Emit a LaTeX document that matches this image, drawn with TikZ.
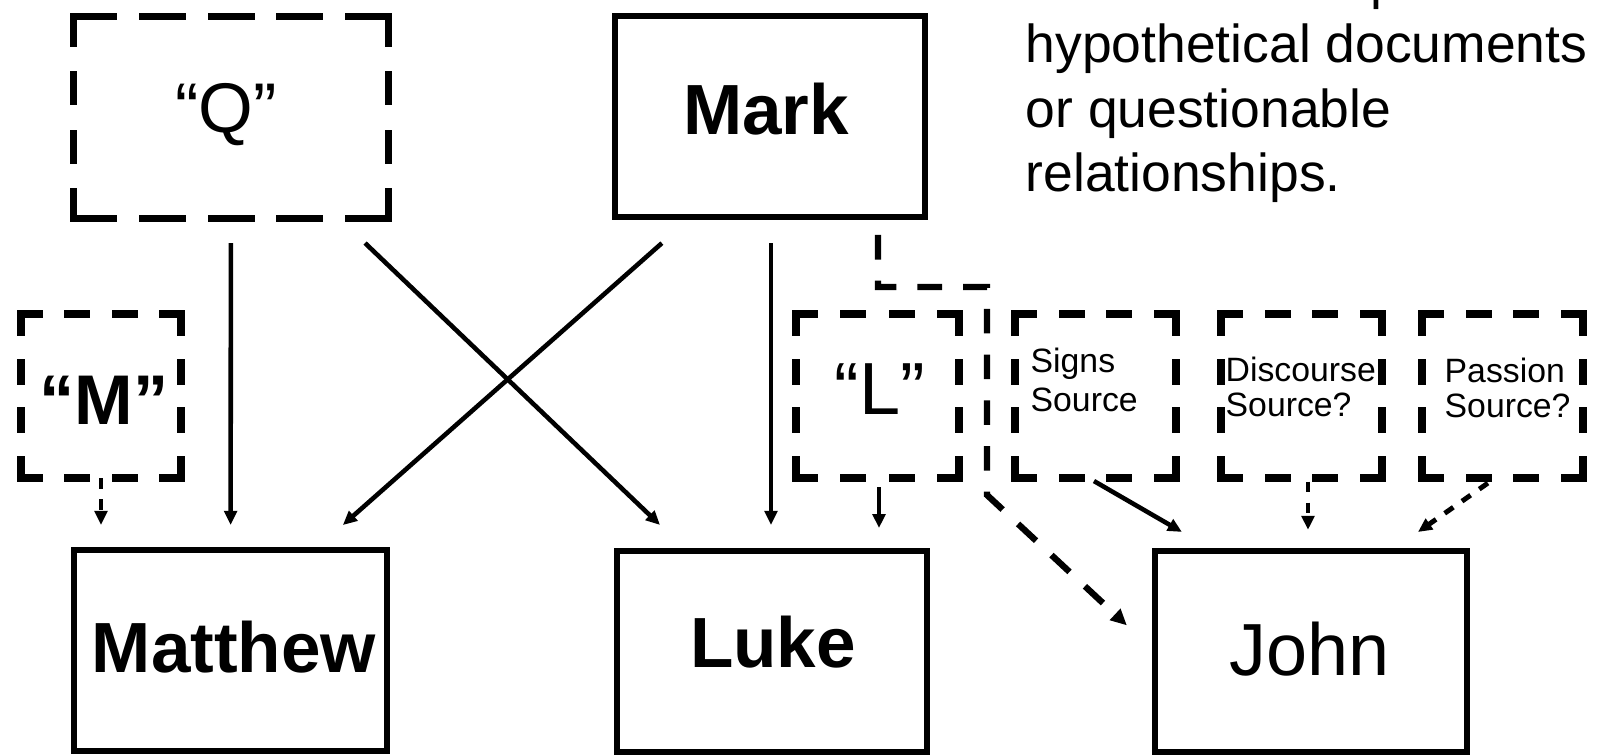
\documentclass[tikz,border=0pt]{standalone}
\usepackage{fontspec}
\setmainfont{Liberation Sans}
\usetikzlibrary{arrows.meta,calc}

\newcommand\pxu{0.28453}
% one side of a dashed box; dashes sit at both corners
\newcommand\dashside[5]{%
  \pgfmathsetmacro\dsL{abs(#3-#1)+abs(#4-#2)}%
  \pgfmathsetmacro\dsn{max(2,round((\dsL+\dboxw+\dboxgap)/(#5+\dboxgap)))}%
  \pgfmathsetmacro\dsa{#5-\dboxw}%
  \pgfmathsetmacro\dsb{(\dsL-\dsn*\dsa)/(\dsn-1)}%
  \pgfmathsetmacro\dsapt{\dsa*\pxu}%
  \pgfmathsetmacro\dsbpt{\dsb*\pxu}%
  \pgfmathsetmacro\dswpt{\dboxw*\pxu}%
  \draw[line width=\dswpt pt, line cap=rect, dash pattern=on \dsapt pt off \dsbpt pt] (#1,#2) -- (#3,#4);%
}
\newcommand\dashedrect[6]{%
  \dashside{#1}{#2}{#3}{#2}{#5}%
  \dashside{#1}{#4}{#3}{#4}{#5}%
  \dashside{#1}{#2}{#1}{#4}{#6}%
  \dashside{#3}{#2}{#3}{#4}{#6}%
}
\def\dboxgap{22}

\tikzset{
  sz/.style 2 args={minimum width=#1*\pxu pt, minimum height=#2*\pxu pt},
  solidbox/.style={draw, line width=1.7pt, inner sep=0pt, outer sep=0pt, rectangle},
  hypobox/.style={draw=none, inner sep=0pt, outer sep=0pt, rectangle},
  bigbold/.style={font=\fontsize{20.2pt}{24pt}\selectfont\bfseries, anchor=base, inner sep=0pt},
  bigreg/.style={font=\fontsize{21pt}{24pt}\selectfont, anchor=base, inner sep=0pt},
  smalltxt/.style={font=\fontsize{9.6pt}{#1}\selectfont, anchor=base west, align=left, inner sep=0pt},
  arr/.style={-{Triangle[length=4pt,width=3.6pt]}, line width=1.3pt},
  dasharr/.style={-{Triangle[length=4.6pt,width=4.2pt]}, line width=1.8pt, dash pattern=on 7pt off 6pt},
  shortdash/.style={-{Triangle[length=4pt,width=3.6pt]}, line width=1.4pt, dash pattern=on 3pt off 3pt},
}

\begin{document}
\begin{tikzpicture}[x=0.01cm, y=-0.01cm]
\clip (0,0) rectangle (1599,755);
\fill[white] (0,0) rectangle (1599,755);

% solid boxes
\node[solidbox, sz={310}{201}] (Mark) at (770,116.5) {};
\node[solidbox, sz={313}{201}] (Matthew) at (230.5,650.5) {};
\node[solidbox, sz={310}{201}] (Luke) at (772,651.5) {};
\node[solidbox, sz={312}{201}] (John) at (1311,651.5) {};

\node[bigbold] (Markt) at (766,135) {Mark};
\node[bigbold] (Matthewt) at (234,673) {Matthew};
\node[bigbold] (Luket) at (773,668) {Luke};
\node[bigreg] (Johnt) at (1310,676) {John};

% hypothetical (dashed) boxes
\def\dboxw{7}
\node[hypobox, sz={315}{202}] (Q) at (231,117.5) {};
\dashedrect{73.5}{16.5}{388.5}{218.5}{47}{34}
\def\dboxw{8}
\node[hypobox, sz={160}{164}] (M) at (101,396) {};
\dashedrect{21}{314}{181}{478}{26}{26}
\node[hypobox, sz={163}{164}] (L) at (877.5,396) {};
\dashedrect{796}{314}{959}{478}{26}{26}
\node[hypobox, sz={161}{164}] (Signs) at (1095.5,396) {};
\dashedrect{1015}{314}{1176}{478}{26}{26}
\node[hypobox, sz={161}{164}] (Disc) at (1301.5,396) {};
\dashedrect{1221}{314}{1382}{478}{26}{26}
\node[hypobox, sz={161}{164}] (Passion) at (1502.5,396) {};
\dashedrect{1422}{314}{1583}{478}{26}{26}

\node[font=\fontsize{20pt}{24pt}\selectfont, anchor=base, inner sep=0pt] (Qt) at (226,133) {“Q”};
\node[font=\fontsize{20pt}{24pt}\selectfont\bfseries, anchor=base, inner sep=0pt] (Mt) at (104,425) {“M”};
\node[font=\fontsize{21pt}{24pt}\selectfont, anchor=base, inner sep=0pt] (Lt) at (880,415) {“L”};

\node[smalltxt=11.1pt] (Signst) at (1030,412) {Signs\\Source};
\node[smalltxt=10pt] (Disct) at (1225,417) {Discourse\\Source?};
\node[smalltxt=10.2pt] (Passiont) at (1444,418) {Passion\\Source?};

% note
\node[font=\fontsize{15.2pt}{18.35pt}\selectfont, anchor=base west, align=left, inner sep=0pt] (note) at (1025,192)
  {Dotted lines represent\\hypothetical documents\\or questionable\\relationships.};

% connectors
\draw[arr, shorten <=7pt, shorten >=7.1pt] (Q) -- (Matthew);
\draw[arr, shorten <=10.1pt, shorten >=10.7pt] ($(Q.south)+(108.4,0)$) -- ($(Luke.north)+(-84.8,0)$);
\draw[arr, shorten <=11.2pt, shorten >=10.7pt] ($(Mark.south)+(-78.6,0)$) -- ($(Matthew.north)+(84.2,0)$);
\draw[arr, shorten <=7.4pt, shorten >=7.4pt] ($(Mark.south)+(1,0)$) -- ($(Luke.north)+(-1,0)$);
\draw[arr, shorten <=2.6pt, shorten >=6.5pt] ($(L.south)+(1.5,0)$) -- ($(Luke.north)+(107,0)$);
\draw[shortdash, shorten >=7.1pt] (M.south) -- (M.south |- Matthew.north);

\coordinate (mj1) at (987,287);
\coordinate (mj2) at (987,495);
\draw[dasharr, shorten <=5.1pt, shorten >=10.9pt] ($(Mark.south)+(108,0)$) |- (mj1) -- (mj2) -- (John.west);

\draw[arr, shorten <=1.7pt, shorten >=10.8pt] ($(Signs.south)+(-6.7,0)$) -- ($(John.north)+(-96.2,0)$);
\draw[shortdash, shorten <=1pt, shorten >=6pt] ($(Disc.south)+(6.5,0)$) -- ($(John.north)+(-3,0)$);
\draw[shortdash, shorten <=2.5pt, shorten >=9.4pt] ($(Passion.south)+(-7.4,0)$) -- ($(John.north)+(79.9,0)$);
\end{tikzpicture}
\end{document}
